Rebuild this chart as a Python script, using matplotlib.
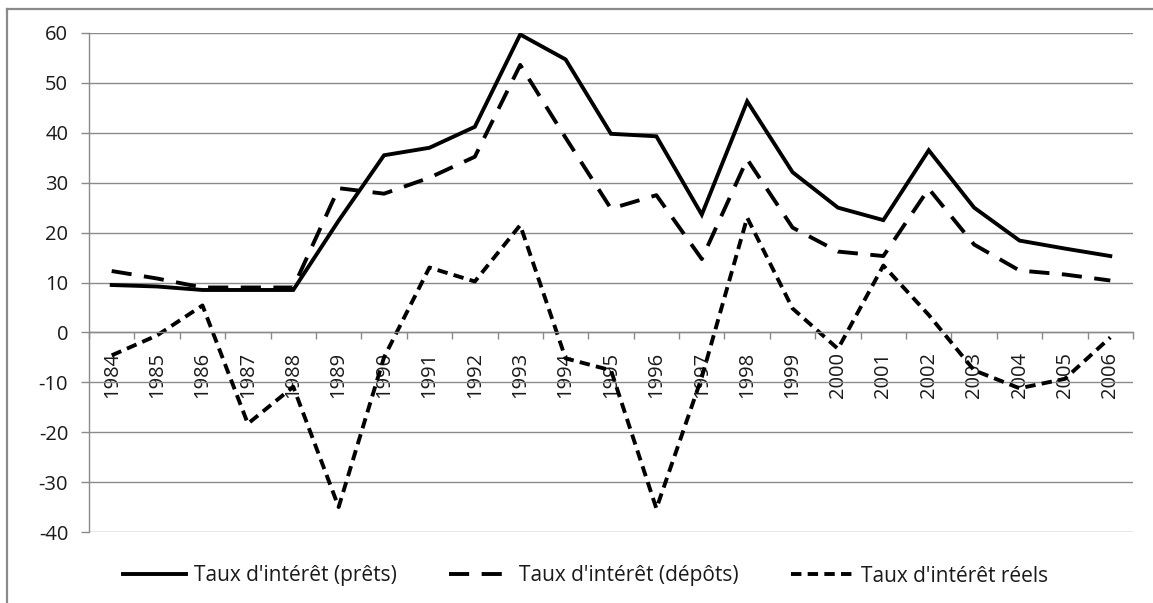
import matplotlib
matplotlib.use("Agg")
import matplotlib.pyplot as plt
from matplotlib.lines import Line2D

years = [str(y) for y in range(1984, 2007)]
lending = [9.5, 9.2, 8.5, 8.5, 8.5, 22.4, 35.5, 37.0, 41.2, 59.7, 54.7, 39.8,
           39.3, 23.6, 46.3, 32.1, 25.0, 22.5, 36.5, 25.0, 18.4, 16.8, 15.3]
deposit = [12.3, 10.8, 9.0, 9.0, 9.0, 28.9, 27.8, 31.0, 35.2, 53.6, 39.0, 24.8,
           27.5, 14.7, 34.7, 21.0, 16.2, 15.3, 28.8, 17.6, 12.4, 11.6, 10.4]
real = [-4.6, -0.6, 5.4, -18.3, -10.9, -35.0, -5.0, 13.0, 10.2, 21.5, -5.2, -7.6,
        -35.3, -9.0, 23.0, 4.8, -3.3, 13.4, 3.5, -7.6, -11.2, -9.3, -1.0]
labels = ["Taux d'intérêt (prêts)", "Taux d'intérêt (dépôts)", "Taux d'intérêt réels"]
yticks = list(range(-40, 61, 10))

plt.rcParams['font.family'] = ['Open Sans', 'DejaVu Sans']
plt.rcParams['lines.scale_dashes'] = False

W, H = 1153, 603
fig = plt.figure(figsize=(W / 100, H / 100), dpi=100)
ax = fig.add_axes([89 / W, 1 - 532 / H, (1133 - 89) / W, (532 - 33) / H])

grey = '#8a8a8a'
txt = '#1a1a1a'
fs = 14.5
x = list(range(len(years)))
lw = 2.8
l1, = ax.plot(x, lending, color='black', lw=lw, solid_joinstyle='miter')
l2, = ax.plot(x, deposit, color='black', lw=lw, linestyle=(0, (14.5, 9)))
l3, = ax.plot(x, real, color='black', lw=lw, linestyle=(0, (7.5, 4.5)))

ax.set_xlim(-0.5, len(years) - 0.5)
ax.set_ylim(-40, 60)
ax.set_yticks(yticks)
ax.set_yticklabels([str(v) for v in yticks], fontsize=fs, color=txt)
ax.yaxis.grid(True, color=grey, lw=1)
ax.set_axisbelow(True)
ax.tick_params(axis='y', length=6, width=1, color=grey, pad=9)

for s in ['top', 'right']:
    ax.spines[s].set_visible(False)
ax.spines['left'].set_color(grey)
ax.spines['left'].set_linewidth(1)
ax.spines['bottom'].set_position(('data', 0))
ax.spines['bottom'].set_color(grey)
ax.spines['bottom'].set_linewidth(1)

ax.set_xticks(x)
ax.set_xticklabels(years, rotation=90, fontsize=fs, color=txt)
ax.tick_params(axis='x', which='major', length=0, pad=14)
ax.set_xticks([i - 0.5 for i in range(len(years) + 1)], minor=True)
ax.tick_params(axis='x', which='minor', length=5, width=1, color=grey)

# outer chart frame (cut at right and bottom)
fig.add_artist(Line2D([7 / W, 7 / W], [0, 1 - 9 / H], transform=fig.transFigure,
                      color=grey, lw=1.6))
fig.add_artist(Line2D([7 / W, 1], [1 - 9 / H, 1 - 9 / H], transform=fig.transFigure,
                      color=grey, lw=1.6))

leg = fig.legend([l1, l2, l3], labels, loc='center', bbox_to_anchor=(586 / W, 1 - 576 / H),
                 ncol=3, frameon=False, fontsize=15, handlelength=3.0,
                 handletextpad=0.38, columnspacing=2.5)
for t in leg.get_texts():
    t.set_color(txt)

fig.savefig('out.png', dpi=100)
